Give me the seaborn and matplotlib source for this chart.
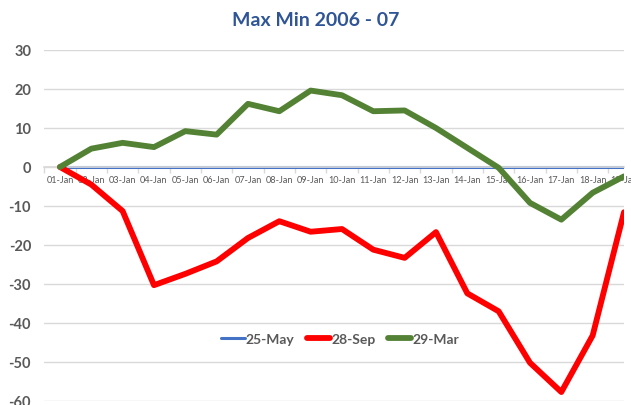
import matplotlib
matplotlib.use("Agg")
import matplotlib.pyplot as plt
import seaborn as sns
import pandas as pd
import numpy as np

dates = ["01-Jan", "02-Jan", "03-Jan", "04-Jan", "05-Jan", "06-Jan", "07-Jan", "08-Jan",
         "09-Jan", "10-Jan", "11-Jan", "12-Jan", "13-Jan", "14-Jan", "15-Jan", "16-Jan",
         "17-Jan", "18-Jan", "19-Jan"]
may25 = [0] * 19
sep28 = [0, -4.5, -11.3, -30.3, -27.4, -24.2, -18.2, -13.9, -16.6, -15.9, -21.2, -23.3,
         -16.7, -32.4, -37.0, -50.2, -57.7, -43.2, -11.6]
mar29 = [0, 4.7, 6.2, 5.1, 9.2, 8.3, 16.2, 14.3, 19.6, 18.4, 14.3, 14.5, 10.0, 4.9,
         -0.2, -9.2, -13.5, -6.6, -2.4]
series_names = ["25-May", "28-Sep", "29-Mar"]
yticks = [30, 20, 10, 0, -10, -20, -30, -40, -50, -60]

sns.set_theme(style="white")
plt.rcParams['font.family'] = ['Lato', 'DejaVu Sans']

fig = plt.figure(figsize=(6.31, 4.06), dpi=100)
ax = fig.add_axes([44.3 / 631, 1 - 402 / 406, (624 - 44.3) / 631, (402 - 51) / 406])

idx = np.arange(len(dates))
colors = {"25-May": "#4472C4", "28-Sep": "#FF0000", "29-Mar": "#548235"}
widths = {"25-May": 2.2, "28-Sep": 4.2, "29-Mar": 4.2}
values = {"25-May": may25, "28-Sep": sep28, "29-Mar": mar29}

for name in series_names:
    df = pd.DataFrame({"x": idx, "y": values[name]})
    sns.lineplot(data=df, x="x", y="y", ax=ax, color=colors[name], linewidth=widths[name],
                 label=name, solid_joinstyle="round", solid_capstyle="round",
                 zorder=3 if name != "25-May" else 2)

ax.set_xlim(-0.5, 18.0)
ax.set_ylim(-60, 30)
ax.set_yticks(yticks)
ax.set_yticklabels([str(v) for v in yticks], fontsize=10.5, fontweight="bold", color="#595959")
ax.grid(axis="y", color="#D9D9D9", linewidth=1.0)
ax.set_axisbelow(True)

for s in ["top", "right", "left"]:
    ax.spines[s].set_visible(False)
ax.spines["bottom"].set_position(("data", 0))
ax.spines["bottom"].set_color("#D9D9D9")

ax.set_xticks(idx)
ax.set_xticklabels(dates, fontsize=6.6, color="#595959")
ax.set_xticks(np.arange(-0.5, 18.0, 1.0), minor=True)
ax.tick_params(axis="x", which="major", length=0, pad=6)
ax.tick_params(axis="x", which="minor", length=4, color="#D9D9D9", width=1, bottom=True)
ax.tick_params(axis="y", length=0, pad=9.5)
ax.set_xlabel("")
ax.set_ylabel("")

leg = ax.legend(loc="center", bbox_to_anchor=(0.51, 0.177), ncol=3, frameon=False,
                fontsize=10, handlelength=1.7, handletextpad=0.05, columnspacing=0.9)
for t in leg.get_texts():
    t.set_color("#595959")
    t.set_fontweight("bold")

fig.text(0.5, 1 - 20 / 406, "Max Min 2006 - 07", ha="center", va="center",
         fontsize=14, fontweight="bold", color="#2F5597")

fig.savefig("out.png", dpi=100)
